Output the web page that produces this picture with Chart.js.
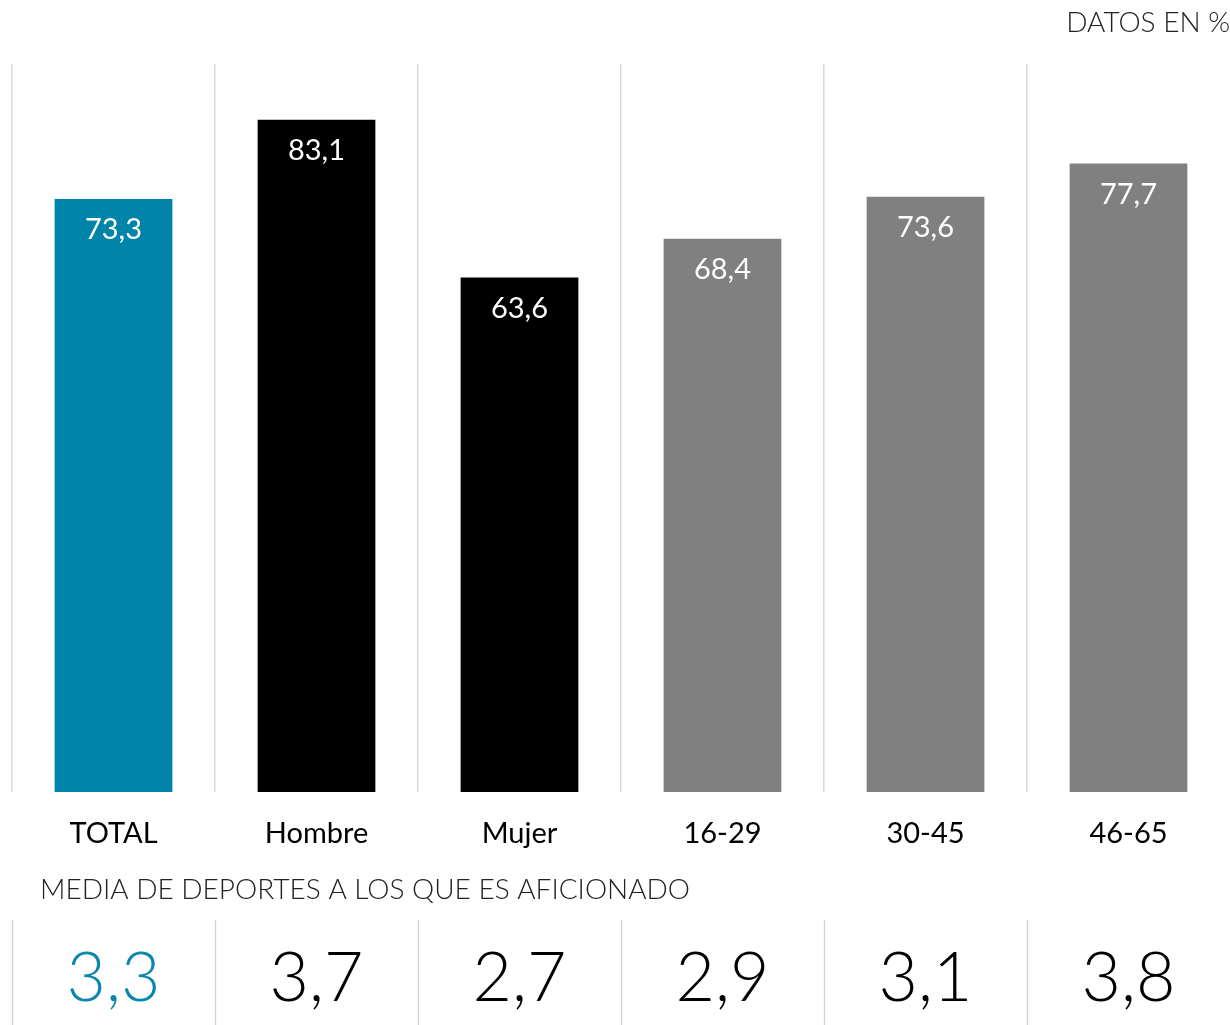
<!DOCTYPE html>
<html lang="es">
<head>
    <meta charset="UTF-8">
    <title>Aficionados al deporte</title>
    <style>
        * {
            margin: 0;
            padding: 0;
            box-sizing: border-box;
        }
        body {
            background: #fff;
            width: 1230px;
            height: 1025px;
            overflow: hidden;
        }
        .chart-box {
            position: relative;
            width: 1230px;
            height: 1025px;
        }
    </style>
    <script src="https://cdn.jsdelivr.net/npm/chart.js@4/dist/chart.umd.min.js"></script>
</head>
<body>
    <div class="chart-box">
        <canvas id="sportsChart"></canvas>
    </div>

    <script>
        // Data
        const categories = ['TOTAL', 'Hombre', 'Mujer', '16-29', '30-45', '46-65'];
        const fanPercent = [73.3, 83.1, 63.6, 68.4, 73.6, 77.7];
        const sportsAverage = [3.3, 3.7, 2.7, 2.9, 3.1, 3.8];
        const barColors = ['#0083a9', '#000000', '#000000', '#808080', '#808080', '#808080'];
        const averageColors = ['#0a87ad', '#000000', '#000000', '#000000', '#000000', '#000000'];

        const FONT = "Lato, 'Open Sans', sans-serif";

        function comma(v) {
            return v.toFixed(1).replace('.', ',');
        }

        // draws the value inside each bar, the titles and the bottom row
        const extrasPlugin = {
            id: 'extras',
            afterDatasetsDraw(chart) {
                const ctx = chart.ctx;
                const meta = chart.getDatasetMeta(0);
                const xScale = chart.scales.x;
                const step = xScale.getPixelForValue(1) - xScale.getPixelForValue(0);

                ctx.save();
                ctx.textAlign = 'center';
                ctx.textBaseline = 'middle';
                ctx.font = '400 29px ' + FONT;
                ctx.fillStyle = '#ffffff';
                meta.data.forEach((bar, i) => {
                    ctx.fillText(comma(fanPercent[i]), bar.x, bar.y + 31);
                });

                // header
                ctx.textAlign = 'right';
                ctx.fillStyle = '#222222';
                ctx.font = '300 28px ' + FONT;
                ctx.fillText('DATOS EN %', chart.width, 23);

                // section title
                ctx.textAlign = 'left';
                ctx.fillText('MEDIA DE DEPORTES A LOS QUE ES AFICIONADO', 40, 890);

                // bottom separators
                ctx.strokeStyle = '#d4d4d4';
                ctx.lineWidth = 1.5;
                categories.forEach((c, i) => {
                    const x = Math.round(xScale.getPixelForValue(i) - step / 2) + 0.5;
                    ctx.beginPath();
                    ctx.moveTo(x, 920);
                    ctx.lineTo(x, chart.height);
                    ctx.stroke();
                });

                // bottom averages
                ctx.textAlign = 'center';
                ctx.font = '300 68px ' + FONT;
                sportsAverage.forEach((v, i) => {
                    ctx.fillStyle = averageColors[i];
                    ctx.fillText(comma(v), xScale.getPixelForValue(i), 979);
                });
                ctx.restore();
            }
        };

        const ctx = document.getElementById('sportsChart').getContext('2d');
        new Chart(ctx, {
            type: 'bar',
            data: {
                labels: categories,
                datasets: [{
                    data: fanPercent,
                    backgroundColor: barColors,
                    borderWidth: 0,
                    categoryPercentage: 1,
                    barPercentage: 0.58
                }]
            },
            options: {
                responsive: true,
                maintainAspectRatio: false,
                animation: false,
                events: [],
                layout: {
                    padding: { top: 64, left: 12, right: 0, bottom: 0 }
                },
                plugins: {
                    legend: { display: false },
                    tooltip: { enabled: false }
                },
                scales: {
                    x: {
                        afterFit(scale) {
                            scale.height = 233;
                        },
                        border: { display: false },
                        grid: {
                            offset: true,
                            // the extra line on the right edge has no tick, hide it
                            color: (c) => c.tick ? '#d9d9d9' : 'rgba(0,0,0,0)',
                            lineWidth: 1.5,
                            drawTicks: false
                        },
                        ticks: {
                            color: '#000000',
                            padding: 24,
                            font: { family: FONT, size: 29 }
                        }
                    },
                    y: {
                        display: false,
                        min: 0,
                        max: 90
                    }
                }
            },
            plugins: [extrasPlugin]
        });
    </script>
</body>
</html>
